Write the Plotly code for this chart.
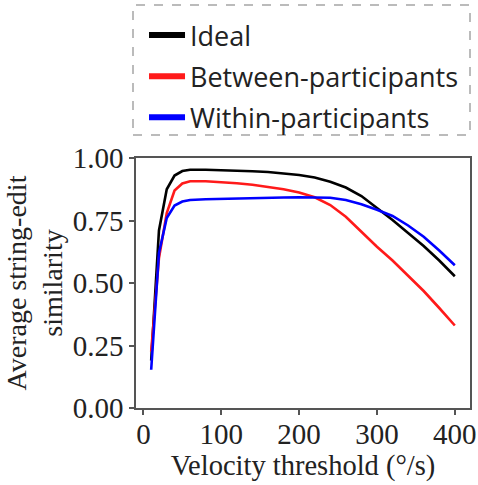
import plotly.graph_objects as go

thresholds = [10, 20, 30, 40, 50, 60, 80, 100, 120, 140, 160, 180, 200, 220, 240, 260, 280, 300, 320, 340, 360, 380, 400]
ideal = [0.19, 0.71, 0.875, 0.93, 0.948, 0.953, 0.953, 0.952, 0.950, 0.947, 0.944, 0.939, 0.932, 0.922, 0.905, 0.882, 0.848, 0.800, 0.752, 0.700, 0.648, 0.590, 0.527]
between = [0.226, 0.60, 0.78, 0.87, 0.898, 0.907, 0.907, 0.904, 0.899, 0.893, 0.885, 0.875, 0.862, 0.843, 0.812, 0.765, 0.705, 0.645, 0.59, 0.53, 0.468, 0.40, 0.33]
within = [0.153, 0.62, 0.76, 0.81, 0.826, 0.832, 0.835, 0.837, 0.839, 0.840, 0.841, 0.842, 0.843, 0.843, 0.841, 0.832, 0.815, 0.793, 0.768, 0.730, 0.685, 0.630, 0.571]

series = [("Ideal", ideal, "#000000"), ("Between-participants", between, "#ff1a1a"), ("Within-participants", within, "#0000ff")]

fig = go.Figure()
for i, (name, vals, col) in enumerate(series):
    fig.add_trace(go.Scatter(x=thresholds, y=vals, mode="lines", line=dict(color=col, width=2.6),
                             showlegend=False))
for i, (name, vals, col) in enumerate(series):
    fig.add_trace(go.Scatter(x=[None], y=[None], mode="lines", name=name, line=dict(color=col, width=6),
                             legendgroup=f"g{i}"))

serif = "Liberation Serif, Times New Roman, serif"
axis_common = dict(showline=True, linecolor="#555555", linewidth=1.5, mirror=True, ticks="outside",
                   ticklen=5, tickwidth=1.5, tickcolor="#555555", showgrid=False, zeroline=False,
                   tickfont=dict(family=serif, size=29, color="#222222"))
fig.update_xaxes(range=[-9.5, 419.5], tickvals=[0, 100, 200, 300, 400], ticklabelstandoff=-6,
                 title=dict(text="Velocity threshold (°/s)", font=dict(family=serif, size=28.5, color="#222222"), standoff=0),
                 **axis_common)
fig.update_yaxes(range=[0, 1], tickvals=[0, 0.25, 0.5, 0.75, 1.0], tickformat=".2f",
                 title=dict(text="Average string-edit<br>similarity", font=dict(family=serif, size=28, color="#222222"), standoff=2),
                 **axis_common)

fig.add_shape(type="rect", xref="paper", yref="paper", x0=-0.009, x1=1.0, y0=1.092, y1=1.612,
              line=dict(color="#bbbbbb", width=2, dash="dash"), fillcolor="rgba(0,0,0,0)")

fig.update_layout(
    width=478, height=485, plot_bgcolor="white", paper_bgcolor="white",
    margin=dict(l=136, r=8, t=158, b=77, autoexpand=False),
    legend=dict(x=0.024, y=1.588, xanchor="left", yanchor="top", bgcolor="rgba(0,0,0,0)",
                font=dict(family="Open Sans, sans-serif", size=27, color="#222222"),
                traceorder="grouped", tracegroupgap=3, itemwidth=36),
)
fig.write_html("out.html")
